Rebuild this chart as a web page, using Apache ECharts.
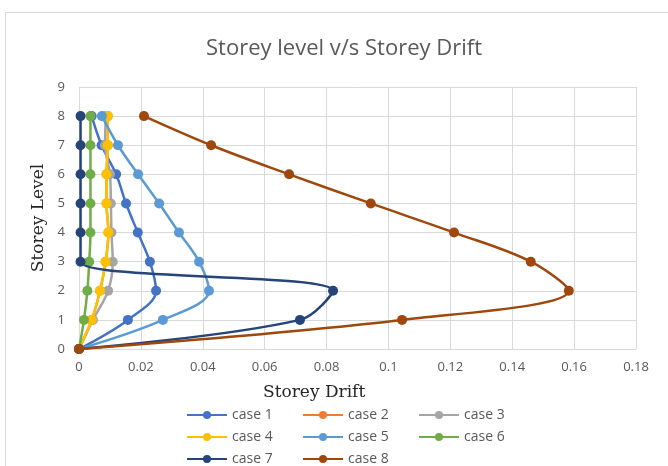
<!DOCTYPE html>
<html>
<head>
<meta charset="utf-8">
<script src="https://cdn.jsdelivr.net/npm/echarts@6/dist/echarts.min.js"></script>
<style>html,body{margin:0;padding:0;background:#fff;}#c{width:668px;height:466px;}</style>
</head>
<body>
<div id="c"></div>
<script>
var levels = [0, 1, 2, 3, 4, 5, 6, 7, 8];
var xTicks = [0, 0.02, 0.04, 0.06, 0.08, 0.1, 0.12, 0.14, 0.16, 0.18];
var case1 = [0, 0.0158, 0.0249, 0.0229, 0.0190, 0.0152, 0.0120, 0.0073, 0.0041];
var case2 = [0, 0.0041, 0.0068, 0.0086, 0.0095, 0.0089, 0.0089, 0.0093, 0.0093];
var case3 = [0, 0.0045, 0.0094, 0.0109, 0.0105, 0.0103, 0.0100, 0.0084, 0.0087];
var case4 = [0, 0.0041, 0.0068, 0.0086, 0.0095, 0.0089, 0.0089, 0.0093, 0.0093];
var case5 = [0, 0.0271, 0.0420, 0.0388, 0.0323, 0.0259, 0.0191, 0.0126, 0.0074];
var case6 = [0, 0.0016, 0.0027, 0.0033, 0.0037, 0.0037, 0.0037, 0.0037, 0.0037];
var case7 = [0, 0.0714, 0.0821, 0.0005, 0.0005, 0.0005, 0.0005, 0.0005, 0.0005];
var case8 = [0, 0.1044, 0.1583, 0.1460, 0.1212, 0.0943, 0.0679, 0.0427, 0.0210];
var names = ['case 1','case 2','case 3','case 4','case 5','case 6','case 7','case 8'];
var values = [case1, case2, case3, case4, case5, case6, case7, case8];
var colors = ['#4472C4','#ED7D31','#A5A5A5','#FFC000','#5B9BD5','#70AD47','#264478','#9E480E'];

var chart = echarts.init(document.getElementById('c'));
var series = names.map(function (n, i) {
  return {
    name: n,
    type: 'line',
    smooth: 0.35,
    symbol: 'circle',
    symbolSize: 10,
    color: colors[i],
    lineStyle: {width: 2.5, color: colors[i]},
    itemStyle: {color: colors[i]},
    data: levels.map(function (l, j) { return [values[i][j], l]; }),
    z: 2 + i
  };
});
var legends = names.map(function (n, i) {
  var col = i % 3, row = Math.floor(i / 3);
  return {
    orient: 'horizontal',
    itemWidth: 40,
    itemHeight: 10,
    padding: 0,
    textStyle: {color: '#595959', fontSize: 14, fontFamily: 'Open Sans'},
    left: 186 + col * 116,
    top: 408 + row * 22,
    data: [n]
  };
});
chart.setOption({
  animation: false,
  graphic: [
    {type: 'rect', shape: {x: 5.5, y: 12.5, width: 700, height: 500}, style: {fill: 'none', stroke: '#D9D9D9', lineWidth: 1}},
    {type: 'text', left: 263, top: 384, style: {text: 'Storey Drift', font: '17px "DejaVu Serif"', fill: '#262626'}}
  ],
  title: {
    text: 'Storey level v/s Storey Drift',
    left: 339, textAlign: 'center', top: 33,
    textStyle: {color: '#595959', fontSize: 22, fontWeight: 'normal', fontFamily: 'Open Sans'}
  },
  legend: legends,
  grid: {left: 79, right: 32, top: 87, bottom: 117},
  xAxis: {
    type: 'value', min: 0, max: 0.18, interval: 0.02,
    axisLine: {show: true, lineStyle: {color: '#D9D9D9'}},
    axisTick: {show: false},
    axisLabel: {color: '#595959', fontSize: 13, fontFamily: 'Open Sans', margin: 12,
      formatter: function (v) { return String(parseFloat(v.toFixed(2))); }},
    splitLine: {show: true, lineStyle: {color: '#D9D9D9', width: 1}}
  },
  yAxis: {
    type: 'value', min: 0, max: 9, interval: 1,
    name: 'Storey Level', nameLocation: 'middle', nameGap: 32,
    nameTextStyle: {color: '#262626', fontSize: 17, fontFamily: 'DejaVu Serif'},
    axisLine: {show: false},
    axisTick: {show: false},
    axisLabel: {color: '#595959', fontSize: 13, fontFamily: 'Open Sans', margin: 14},
    splitLine: {show: true, lineStyle: {color: '#D9D9D9', width: 1}}
  },
  series: series
});
</script>
</body>
</html>
